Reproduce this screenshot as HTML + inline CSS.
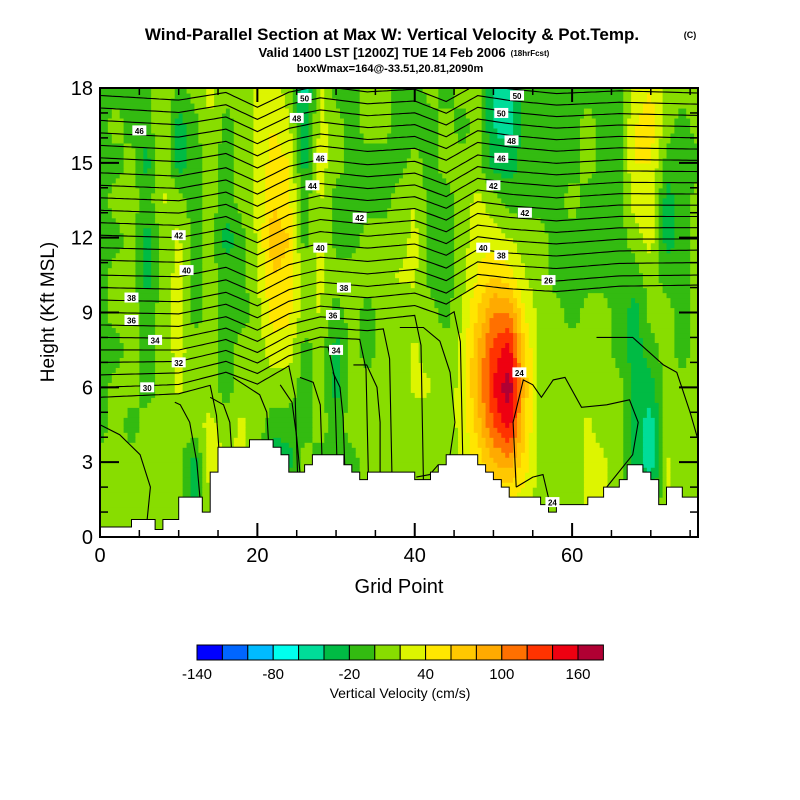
<!DOCTYPE html>
<html><head><meta charset="utf-8"><style>
body{margin:0;background:#fff;}
svg{display:block;font-family:"Liberation Sans",sans-serif;}
</style></head><body>
<svg id="chart" width="800" height="800" viewBox="0 0 800 800">
<text x="392" y="40" font-size="17" font-weight="bold" text-anchor="middle">Wind-Parallel Section at Max W: Vertical Velocity &amp; Pot.Temp.</text>
<text x="690" y="38" font-size="9" font-weight="bold" text-anchor="middle">(C)</text>
<text x="382" y="57" font-size="13" font-weight="bold" text-anchor="middle">Valid 1400 LST [1200Z] TUE 14 Feb 2006</text>
<text x="530" y="56" font-size="8" font-weight="bold" text-anchor="middle">(18hrFcst)</text>
<text x="390" y="72" font-size="11" font-weight="bold" text-anchor="middle">boxWmax=164@-33.51,20.81,2090m</text>
<defs><clipPath id="plotclip"><rect x="100" y="88" width="598" height="449"/></clipPath></defs>
<g id="field" clip-path="url(#plotclip)"></g>
<g id="isen" clip-path="url(#plotclip)"></g>
<g id="terrain" clip-path="url(#plotclip)"></g>
<g id="clabels"></g>
<g id="axes"></g>
<text x="399" y="593" font-size="20" text-anchor="middle">Grid Point</text>
<text transform="translate(54,312) rotate(-90)" font-size="19" text-anchor="middle">Height (Kft MSL)</text>
<g id="cbar"></g>
<text x="400" y="698" font-size="14" text-anchor="middle">Vertical Velocity (cm/s)</text>
</svg>
<script>
// ---- data ----
const wGridX = [0,2,4,6,8,10,12,14,16,18,20,22,24,26,28,30,32,34,36,38,40,42,44,46,48,50,52,54,56,58,60,62,64,66,68,70,72,74,76];
const wGridH = [0,1.5,3,4.5,6,7.5,9,10.5,12,13.5,15,16.5,18];
const wColumns = [
[10,10,10,-10,-10,-10,-10,-10,-10,-10,-10,-10,-10],
[10,10,10,10,10,-10,10,10,-10,10,-10,10,-10],
[10,10,10,-10,10,10,10,10,10,10,10,-10,-10],
[10,10,10,10,-10,-10,-10,-30,-30,-10,-30,-10,-10],
[10,10,10,10,10,10,10,10,10,22,24,24,24],
[10,10,10,10,24,26,26,26,24,10,-30,-30,-10],
[10,-30,-30,10,10,10,-10,-10,-10,-10,-10,-10,10],
[10,24,30,26,10,10,10,10,10,10,10,22,24],
[22,24,22,10,-10,-10,-10,-10,-30,-10,-10,-10,10],
[10,10,22,24,10,10,-10,-10,-10,10,10,10,10],
[10,10,10,10,10,10,10,22,24,24,24,24,22],
[10,10,-40,-10,10,30,50,60,70,60,50,40,30],
[10,10,-30,-10,10,30,45,55,60,45,40,25,10],
[10,10,10,-10,-10,-10,10,10,-10,-10,-30,-40,-50],
[10,10,-10,10,10,10,22,24,24,24,28,28,24],
[10,10,-10,-10,-30,-30,-10,10,-10,-10,10,10,-10],
[10,10,-10,10,10,10,10,10,-10,-10,-10,-10,-10],
[10,10,10,10,10,-10,-10,10,10,-10,-10,10,10],
[10,10,10,10,10,10,10,10,10,-10,-10,10,10],
[10,10,10,10,10,10,10,22,10,10,-10,-10,-10],
[10,10,10,10,24,24,10,24,26,20,10,-10,-10],
[10,10,10,10,22,10,10,-10,-10,-10,-10,-10,10],
[10,10,10,10,10,10,-10,-10,-10,-10,10,10,-10],
[10,10,24,26,26,24,22,10,10,10,10,-10,10],
[10,20,45,70,85,80,60,40,35,25,10,10,10],
[10,40,80,120,140,130,100,60,30,10,-30,-40,-40],
[10,40,90,150,175,150,100,50,20,-10,-30,-50,-50],
[10,30,50,60,70,60,40,20,10,-10,-10,-10,-10],
[10,10,10,10,10,10,10,10,10,-10,-10,-10,-10],
[10,10,10,10,10,10,10,-10,-10,-10,-10,-10,-10],
[10,10,10,10,10,10,-10,-10,-10,10,-10,-10,-10],
[10,24,26,24,10,10,10,-10,-10,-10,10,10,-10],
[10,24,24,10,10,10,10,-10,-10,-10,-10,-10,-10],
[10,10,10,10,10,-10,-10,-10,-10,-10,-10,-10,-10],
[10,-10,-30,-30,-30,-30,-30,-10,10,30,40,40,30],
[10,-40,-50,-50,-30,-10,10,10,30,40,40,50,40],
[10,24,24,10,10,10,10,-10,-30,-30,-10,10,10],
[10,10,10,10,10,-10,-10,-10,-10,-10,-10,-10,10],
[10,10,10,10,10,10,10,10,10,10,-10,10,10]
];
const terrainStartG = [0,4,7,8,10,13,14,15,19,22,23,24,26,27,31,32,33,34,40,42,43,44,48,49,50,51,52,56,57,58,62,64,66,67,69,70,71,72,74];
const terrainH = [0.4,0.7,0.3,0.7,1.6,1.0,2.6,3.6,3.9,3.6,3.3,2.6,2.9,3.3,2.9,2.6,2.3,2.6,2.3,2.6,2.9,3.3,2.9,2.6,2.3,2.0,1.6,1.3,1.0,1.3,1.6,2.0,2.3,2.9,2.6,2.3,1.3,2.0,1.6];
const levelValues = [-140,-120,-100,-80,-60,-40,-20,0,20,40,60,80,100,120,140,160];
const levelColors = ['#0000ff','#0066ff','#00bbff','#00ffee','#00dd99','#00bb44','#33bb11','#88dd00','#ddf500','#ffe600','#ffc800','#ffaa00','#ff7000','#ff3300','#ee0011','#b00033'];
const cbarTickLabels = ['-140','-80','-20','40','100','160'];
const cbarTickValues = [-140,-80,-20,40,100,160];
const isenLeftH = [17.7,17.2,16.7,16.2,15.7,15.2,14.6,14.1,13.6,13.1,12.6,12.1,11.6,11.1,10.5,10.0,9.5,9.0,8.5,8.0,7.5,7.0,6.5,6.0,5.6];
const isenRightH = [17.8,17.35,16.9,16.45,16.0,15.55,15.1,14.65,14.2,13.75,13.3,12.85,12.4,11.95,11.5,11.0,10.5,10.1,9.6,9.3,9.0,8.8,8.6,8.4,8.2];
const isenEndG = [76,76,76,76,76,76,76,76,76,76,76,76,76,76,76,76,76,76,45,40,36,33,29,24,14];
const waveG = [0,10,16,20,24,28,34,40,44,48,52,58,66,76];
const waveOffset = [0,-0.2,0.1,-0.5,0.1,0.35,0.1,0.2,-0.3,0.4,0.2,0,0.1,0];
const lowContours = [
[[0,4.5],[2.5,4.1],[5.1,3.3],[6.4,2.0],[5.9,0.4]],
[[9.5,5.4],[10.2,5.3],[11.4,4.6],[12.3,3.0],[12.7,1.6]],
[[14.0,5.6],[15.7,5.3],[16.5,4.6],[16.7,3.6]],
[[16.9,6.4],[20.3,5.7],[21.2,5.0],[21.4,3.9]],
[[22.9,6.1],[24.4,5.4],[25.0,4.0],[25.4,2.6]],
[[25.4,6.4],[27.1,6.2],[28.0,5.3],[28.2,3.3]],
[[29.6,6.6],[30.5,6.0],[30.9,4.8],[31.1,2.9]],
[[32.2,6.9],[33.9,6.9],[35.2,6.0],[35.6,4.6],[35.6,2.6]],
[[38.1,8.4],[41.1,8.4],[43.2,7.85],[44.5,6.6],[45.1,4.6],[44.5,3.3]],
[[40.2,2.4],[41.9,2.5],[43,2.9]],
[[52.9,2.0],[52.5,4.6],[53.8,6.3],[55.0,6.1],[56.1,5.6],[57.6,6.3],[59.1,6.4],[61.2,5.2],[64.4,5.3],[67.3,5.5],[68.4,4.6],[67.7,3.3],[64.4,2.0]],
[[52.9,2.0],[55.0,2.4],[56.3,2.5],[57.2,1.3]],
[[63.1,8.0],[67.7,8.0],[71.6,6.9],[73.3,6.6],[75,5.0],[76,3.9]]
];
const contourLabelG = [5,10,11,4,4,7,10,6,25,26,28,27,33,28,31,29.6,30,53,51,52.3,51,50,54,48.7,51,57,53.3,57.5];
const contourLabelH = [16.3,12.1,10.7,9.6,8.7,7.9,7.0,6.0,16.8,17.6,15.2,14.1,12.8,11.6,10.0,8.9,7.5,17.7,17.0,15.9,15.2,14.1,13.0,11.6,11.3,10.3,6.6,1.4];
const contourLabelText = ['46','42','40','38','36','34','32','30','48','50','46','44','42','40','38','36','34','50','50','48','46','42','42','40','38','26','24','24'];
const xTicks = [0,20,40,60];
const yTicks = [0,3,6,9,12,15,18];

// ---- axes functions ----
const NS='http://www.w3.org/2000/svg';
const X0=100,X1=698,Y0=537,Y1=88,GMAX=76,HMAX=18;
function xs(g){return X0+(X1-X0)*g/GMAX;}
function ys(h){return Y0-(Y0-Y1)*h/HMAX;}
function mk(tag,parent,attrs){const e=document.createElementNS(NS,tag);for(const k in attrs)e.setAttribute(k,attrs[k]);parent.appendChild(e);return e;}
function colorFor(v){let i=0;for(let j=0;j<levelValues.length;j++){if(v>=levelValues[j])i=j;}return levelColors[i];}
function interp1(arr,vals,x){if(x<=arr[0])return vals[0];for(let i=0;i<arr.length-1;i++){if(x<=arr[i+1]){const t=(x-arr[i])/(arr[i+1]-arr[i]);return vals[i]+(vals[i+1]-vals[i])*t;}}return vals[vals.length-1];}
function terrainAt(g){let h=terrainH[0];for(let i=0;i<terrainStartG.length;i++){if(g>=terrainStartG[i])h=terrainH[i];}return h;}
function wAt(g,h){
  let i=0;while(i<wGridX.length-2&&g>wGridX[i+1])i++;
  let j=0;while(j<wGridH.length-2&&h>wGridH[j+1])j++;
  const tx=Math.max(0,Math.min(1,(g-wGridX[i])/(wGridX[i+1]-wGridX[i])));
  const ty=Math.max(0,Math.min(1,(h-wGridH[j])/(wGridH[j+1]-wGridH[j])));
  const a=wColumns[i][j],b=wColumns[i+1][j],c=wColumns[i][j+1],d=wColumns[i+1][j+1];
  return a*(1-tx)*(1-ty)+b*tx*(1-ty)+c*(1-tx)*ty+d*tx*ty;
}

// ---- field ----
const field=document.getElementById('field');
const dg=0.5,dh=0.2;
for(let r=0;r<HMAX/dh;r++){
  const h=(r+0.5)*dh;let runStart=0,runCol=null;
  const nC=GMAX/dg;
  for(let c=0;c<=nC;c++){
    const col=c<nC?colorFor(wAt((c+0.5)*dg,h)):null;
    if(col!==runCol){
      if(runCol){const cell=mk('rect',field,{x:xs(runStart*dg).toFixed(2),y:ys((r+1)*dh).toFixed(2),width:(xs(c*dg)-xs(runStart*dg)+0.6).toFixed(2),height:(ys(r*dh)-ys((r+1)*dh)+0.6).toFixed(2),fill:runCol});
        
        }
      runStart=c;runCol=col;
    }
  }
}

// ---- isentropes ----
const isen=document.getElementById('isen');
for(let k=0;k<isenLeftH.length;k++){
  let d='';const end=isenEndG[k];let lastH=0;
  for(let g=0;g<=end+1e-6;g+=0.5){
    const h=isenLeftH[k]+(isenRightH[k]-isenLeftH[k])*(g/GMAX)+interp1(waveG,waveOffset,g);
    lastH=h;d+=(g===0?'M':' L')+xs(g).toFixed(1)+','+ys(h).toFixed(1);
  }
  if(end<GMAX){d+=' L'+xs(end+0.8).toFixed(1)+','+ys(lastH-1.2).toFixed(1)+' L'+xs(end+1.1).toFixed(1)+','+ys(terrainAt(end+1.1)).toFixed(1);}
  const p=mk('path',isen,{d:d,fill:'none',stroke:'#000','stroke-width':'1.1'});
  
  
}
for(const cv of lowContours){
  const d=cv.map((pt,i)=>(i?'L':'M')+xs(pt[0]).toFixed(1)+','+ys(pt[1]).toFixed(1)).join(' ');
  const p=mk('path',isen,{d:d,fill:'none',stroke:'#000','stroke-width':'1.1'});
  
  
}

// ---- terrain ----
const terr=document.getElementById('terrain');
let tp='M'+xs(0)+','+ys(-1);
for(let i=0;i<terrainStartG.length;i++){
  const g0=terrainStartG[i],g1=i<terrainStartG.length-1?terrainStartG[i+1]:GMAX;
  tp+=' L'+xs(g0).toFixed(1)+','+ys(terrainH[i]).toFixed(1)+' L'+xs(g1).toFixed(1)+','+ys(terrainH[i]).toFixed(1);
}
tp+=' L'+xs(GMAX)+','+ys(-1)+' Z';
const tpath=mk('path',terr,{d:tp,fill:'#fff',stroke:'#000','stroke-width':'1'});



const cl=document.getElementById('clabels');
for(let i=0;i<contourLabelText.length;i++){
  const x=xs(contourLabelG[i]),y=ys(contourLabelH[i]);
  const r=mk('rect',cl,{x:x-7,y:y-5,width:14,height:10,fill:'#fff'});
  
  
  const t=mk('text',cl,{x:x,y:y+3.5,'font-size':'8','font-weight':'bold','text-anchor':'middle'});
  t.textContent=contourLabelText[i];
  
  
}

// ---- axes ----
const ax=document.getElementById('axes');
const frame=mk('rect',ax,{x:X0,y:Y1,width:X1-X0,height:Y0-Y1,fill:'none',stroke:'#000','stroke-width':'2'});


for(let g=0;g<=GMAX;g+=5){
  const major=xTicks.indexOf(g)>=0,L=major?14:7;
  const t1=mk('line',ax,{x1:xs(g),x2:xs(g),y1:Y0,y2:Y0-L,stroke:'#000','stroke-width':major?2:1.5});
  
  
  const t2=mk('line',ax,{x1:xs(g),x2:xs(g),y1:Y1,y2:Y1+L,stroke:'#000','stroke-width':major?2:1.5});
  
  
}
for(const g of xTicks){
  const t=mk('text',ax,{x:xs(g),y:Y0+25,'font-size':'20','text-anchor':'middle'});t.textContent=g;
  
  
}
for(let h=0;h<=HMAX;h+=1){
  const major=yTicks.indexOf(h)>=0,L=major?19:8;
  const t1=mk('line',ax,{x1:X0,x2:X0+L,y1:ys(h),y2:ys(h),stroke:'#000','stroke-width':major?2:1.5});
  
  
  const t2=mk('line',ax,{x1:X1,x2:X1-L,y1:ys(h),y2:ys(h),stroke:'#000','stroke-width':major?2:1.5});
  
  
}
for(const h of yTicks){
  const t=mk('text',ax,{x:X0-7,y:ys(h)+7,'font-size':'20','text-anchor':'end'});t.textContent=h;
  
  
}

// ---- colorbar ----
const cb=document.getElementById('cbar');
const CBX=197,CBW=25.4,CBY=645,CBH=15;
for(let i=0;i<levelColors.length;i++){
  const r=mk('rect',cb,{x:CBX+i*CBW,y:CBY,width:CBW,height:CBH,fill:levelColors[i],stroke:'#000','stroke-width':'1'});
  
  
}
for(let i=0;i<cbarTickLabels.length;i++){
  const x=CBX+(cbarTickValues[i]-levelValues[0])/20*CBW;
  const t=mk('text',cb,{x:x,y:CBY+34,'font-size':'15','text-anchor':'middle'});
  t.textContent=cbarTickLabels[i];
  
  
}
</script>
</body></html>
